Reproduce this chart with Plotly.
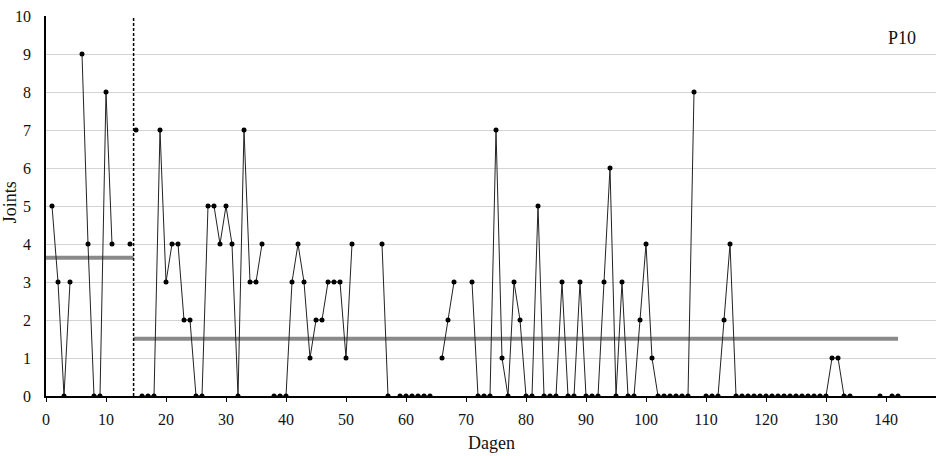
import plotly.graph_objects as go

# ---- data ----
phase_a_days = list(range(1, 15))
phase_a_joints = [5, 3, 0, 3, None, 9, 4, 0, 0, 8, 4, None, None, 4]

phase_b_days = list(range(15, 143))
phase_b_joints = [
    7,                                              # 15
    0, 0, 0, 7, 3, 4, 4, 2, 2, 0,                   # 16-25
    0, 5, 5, 4, 5, 4, 0, 7, 3, 3,                   # 26-35
    4, None, 0, 0, 0, 3, 4, 3, 1, 2,                # 36-45
    2, 3, 3, 3, 1, 4, None, None, None, None,       # 46-55
    4, 0, None, 0, 0, 0, 0, 0, 0, None,             # 56-65
    1, 2, 3, None, None, 3, 0, 0, 0, 7,             # 66-75
    1, 0, 3, 2, 0, 0, 5, 0, 0, 0,                   # 76-85
    3, 0, 0, 3, 0, 0, 0, 3, 6, 0,                   # 86-95
    3, 0, 0, 2, 4, 1, 0, 0, 0, 0,                   # 96-105
    0, 0, 8, None, 0, 0, 0, 2, 4, 0,                # 106-115
    0, 0, 0, 0, 0, 0, 0, 0, 0, 0,                   # 116-125
    0, 0, 0, 0, 0, 1, 1, 0, 0, None,                # 126-135
    None, None, None, 0, None, 0, 0,                # 136-142
]
# line is interrupted after these days (no connecting segment)
break_after_days = [15]

phase_change_day = 14.6
x_ticks = list(range(0, 141, 10))
y_ticks = list(range(0, 11))
label_text = "P10"
x_title = "Dagen"
y_title = "Joints"

FONT = "Liberation Serif"


def with_breaks(days, vals, breaks):
    xs, ys = [], []
    for d, v in zip(days, vals):
        xs.append(d)
        ys.append(v)
        if d in breaks:
            xs.append(None)
            ys.append(None)
    return xs, ys


def mean(vals):
    v = [x for x in vals if x is not None]
    return sum(v) / len(v)


mean_a = mean(phase_a_joints)
mean_b = mean(phase_b_joints)

fig = go.Figure()

# phase means
fig.add_trace(go.Scatter(x=[0, phase_change_day], y=[mean_a, mean_a], mode="lines",
                         line=dict(color="#8a8a8a", width=4), hoverinfo="skip"))
fig.add_trace(go.Scatter(x=[phase_change_day, max(phase_b_days)], y=[mean_b, mean_b], mode="lines",
                         line=dict(color="#8a8a8a", width=4), hoverinfo="skip"))

for days, vals in [(phase_a_days, phase_a_joints), (phase_b_days, phase_b_joints)]:
    xs, ys = with_breaks(days, vals, break_after_days)
    fig.add_trace(go.Scatter(x=xs, y=ys, mode="lines+markers", connectgaps=False,
                             line=dict(color="#222222", width=1),
                             marker=dict(color="black", size=5)))

fig.add_shape(type="line", xref="x", yref="y", x0=phase_change_day, x1=phase_change_day,
              y0=0, y1=10, line=dict(color="black", width=1.5, dash="3px,2px"))

fig.add_annotation(text=label_text, xref="paper", yref="paper", x=0.98, y=0.942,
                   xanchor="right", yanchor="middle", showarrow=False,
                   font=dict(family=FONT, size=18, color="#111"))
fig.add_annotation(text=x_title, xref="paper", yref="paper", x=0.5, y=-0.124,
                   xanchor="center", yanchor="middle", showarrow=False,
                   font=dict(family=FONT, size=18, color="#111"))
fig.add_annotation(text=y_title, xref="paper", yref="paper", x=-0.0404, y=0.51,
                   xanchor="center", yanchor="middle", showarrow=False, textangle=-90,
                   font=dict(family=FONT, size=18, color="#111"))

fig.update_layout(
    width=936, height=456,
    margin=dict(l=46, r=0, t=16, b=60),
    paper_bgcolor="white", plot_bgcolor="white",
    showlegend=False,
    font=dict(family=FONT, size=16, color="#111"),
)
fig.update_xaxes(range=[0, 148.33], tickvals=x_ticks, ticktext=[str(t) for t in x_ticks],
                 automargin=False,
                 showgrid=False, zeroline=False, showline=True, linecolor="black", linewidth=1.5,
                 ticks="outside", ticklen=4, tickcolor="black", tickwidth=1,
                 ticklabelstandoff=4)
fig.update_yaxes(range=[0, 10], tickvals=y_ticks, showgrid=True, gridcolor="#d4d4d4", gridwidth=1,
                 automargin=False,
                 zeroline=False, showline=True, linecolor="black", linewidth=1.5,
                 ticks="", ticklabelstandoff=10)

fig.write_html("out.html", config={"displayModeBar": False},
               post_script="document.body.style.margin='0';document.body.style.overflow='hidden';")
